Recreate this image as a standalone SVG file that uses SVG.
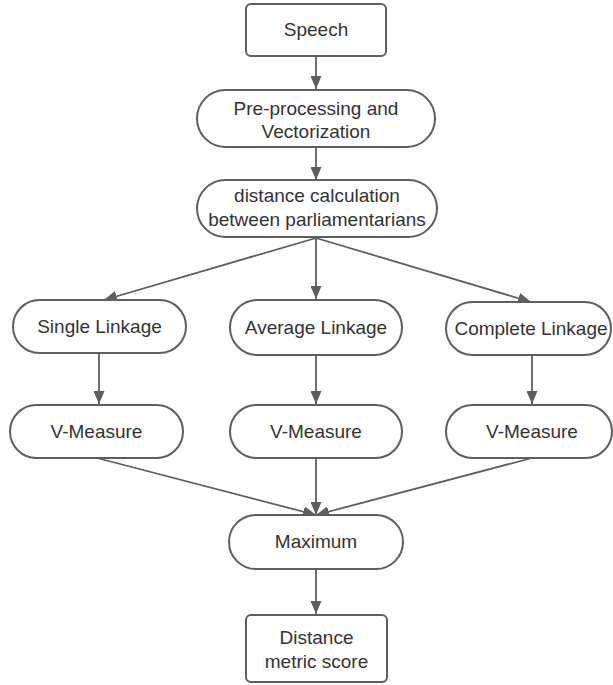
<svg xmlns="http://www.w3.org/2000/svg" width="613" height="685" viewBox="0 0 613 685">
<style>
.s{fill:#ffffff;stroke:#5e5e5e;stroke-width:2}
.t{font-family:"Liberation Sans",Arial,sans-serif;font-size:19px;fill:#333333;text-anchor:middle}
.c line{stroke:#5e5e5e;stroke-width:1.8;marker-end:url(#a)}
</style>
<defs>
<marker id="a" markerUnits="userSpaceOnUse" markerWidth="13" markerHeight="11" refX="13" refY="5.5" orient="auto">
<path d="M0,0 L13,5.5 L0,11 z" fill="#5e5e5e"/>
</marker>
</defs>
<rect width="613" height="685" fill="#ffffff"/>
<g id="connectors" class="c">
<line x1="316" y1="56" x2="316" y2="89"/>
<line x1="316" y1="147" x2="316" y2="180"/>
<line x1="316" y1="238" x2="104" y2="300"/>
<line x1="316" y1="238" x2="316" y2="299"/>
<line x1="316" y1="238" x2="531" y2="302"/>
<line x1="99" y1="353" x2="99" y2="404"/>
<line x1="316" y1="355" x2="316" y2="404"/>
<line x1="532" y1="355" x2="532" y2="404"/>
<line x1="97" y1="458" x2="316" y2="515"/>
<line x1="316" y1="458" x2="316" y2="515"/>
<line x1="532" y1="458" x2="316" y2="515"/>
<line x1="316" y1="569" x2="316" y2="614"/>
</g>
<g id="speech"><rect class="s" x="246" y="4" width="140" height="52" rx="5"/><text class="t" x="316" y="36">Speech</text></g>
<g id="preprocessing"><rect class="s" x="197" y="90" width="238" height="57" rx="28.5"/><text class="t" x="316" y="115">Pre-processing and</text><text class="t" x="316" y="138">Vectorization</text></g>
<g id="distance"><rect class="s" x="197" y="180" width="240" height="57" rx="28.5"/><text class="t" x="317" y="202">distance calculation</text><text class="t" x="317" y="226">between parliamentarians</text></g>
<g id="single"><rect class="s" x="13" y="300" width="173" height="53" rx="26.5"/><text class="t" x="99.5" y="333">Single Linkage</text></g>
<g id="average"><rect class="s" x="230" y="300" width="172" height="55" rx="27.5"/><text class="t" x="316" y="334">Average Linkage</text></g>
<g id="complete"><rect class="s" x="446" y="302" width="165" height="53" rx="26.5"/><text class="t" x="531" y="335">Complete Linkage</text></g>
<g id="vm1"><rect class="s" x="10" y="405" width="173" height="53" rx="26.5"/><text class="t" x="96.5" y="438">V-Measure</text></g>
<g id="vm2"><rect class="s" x="230" y="405" width="172" height="53" rx="26.5"/><text class="t" x="316" y="438">V-Measure</text></g>
<g id="vm3"><rect class="s" x="446" y="405" width="166" height="53" rx="26.5"/><text class="t" x="532" y="438">V-Measure</text></g>
<g id="maximum"><rect class="s" x="229" y="515" width="174" height="54" rx="27"/><text class="t" x="316" y="548">Maximum</text></g>
<g id="score"><rect class="s" x="246" y="615" width="141" height="67" rx="5"/><text class="t" x="316.5" y="644">Distance</text><text class="t" x="316.5" y="668">metric score</text></g>
</svg>
